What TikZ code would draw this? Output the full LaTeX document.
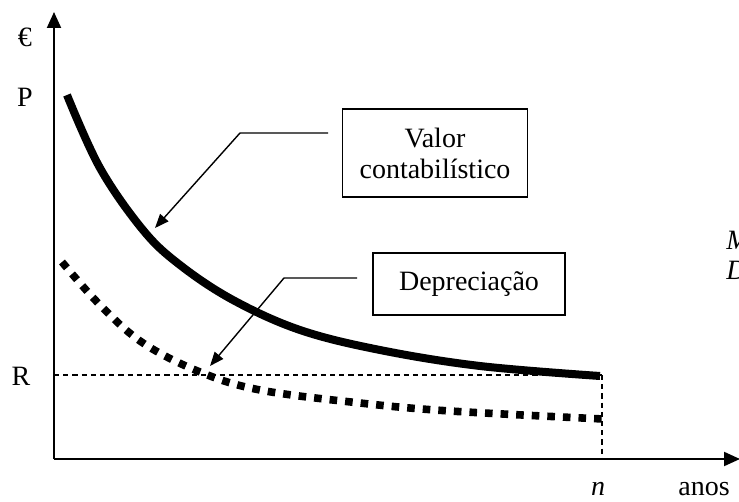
\documentclass[tikz,border=0pt]{standalone}
\usepackage{fontspec}
\setmainfont{Liberation Serif}
\usetikzlibrary{arrows.meta}

\tikzset{
  axis/.style={line width=1pt, -{Triangle[length=8pt,width=7pt]}},
  labelbox/.style={draw, line width=0.8pt, align=center, inner sep=0pt},
  callout/.style={line width=0.7pt, -{Triangle[length=7pt,width=5.5pt]}},
  guide/.style={line width=0.6pt, dash pattern=on 2.6pt off 2pt},
}

\begin{document}
\begin{tikzpicture}[x=0.5pt, y=-0.5pt, font=\fontsize{14}{15.5}\selectfont]
\useasboundingbox (0,0) rectangle (739,502);

% Axes
\coordinate (O) at (54,459);
\coordinate (ytop) at (54,12);
\coordinate (xend) at (740,459);
\draw[axis] (O) -- (ytop);
\draw[axis] (O) -- (xend);

\node (euro) at (25,37) {€};
\node (P) at (25,97) {P};
\node (R) at (21,376) {R};
\node (n) at (598,489) {\textit{n}};
\node (anos) at (704,489) {anos};

% Residual value and end of life
\coordinate (Rleft) at (54,375);
\coordinate (Rend) at (602,375);
\coordinate (nbase) at (602,459);
\draw[guide] (Rleft) -- (Rend);
\draw[guide] (Rend) -- (nbase);

% Book value (solid) and depreciation (dotted)
\draw[line width=4pt] plot[smooth, tension=0.6] coordinates
  {(67,95) (100,168) (143,230) (180,265) (233,300) (300,330) (380,350) (480,366) (600,376)};
\draw[line width=3.8pt, dash pattern=on 3.8pt off 4pt] plot[smooth, tension=0.6] coordinates
  {(62,262) (100,305) (143,343) (200,372) (260,390) (360,403) (450,411) (603,419)};

% Labels
\node[labelbox, minimum width=92.5pt, minimum height=44pt] (valor) at (435,153) {Valor\\contabilístico};
\node[labelbox, minimum width=96pt, minimum height=31pt] (deprec) at (469,284) {Depreciação};

\coordinate (valorStart) at (328,133);
\coordinate (valorBend) at (240,133);
\coordinate (valorTip) at (155,228);
\draw[callout] (valorStart) -- (valorBend) -- (valorTip);

\coordinate (deprecStart) at (357,278);
\coordinate (deprecBend) at (284,278);
\coordinate (deprecTip) at (210,366);
\draw[callout] (deprecStart) -- (deprecBend) -- (deprecTip);

% cut off text at the right edge
\node[anchor=west, inner sep=0pt] (mtext) at (726,240) {\textit{M}};
\node[anchor=west, inner sep=0pt] (dtext) at (726,270) {\textit{D}};
\end{tikzpicture}
\end{document}
